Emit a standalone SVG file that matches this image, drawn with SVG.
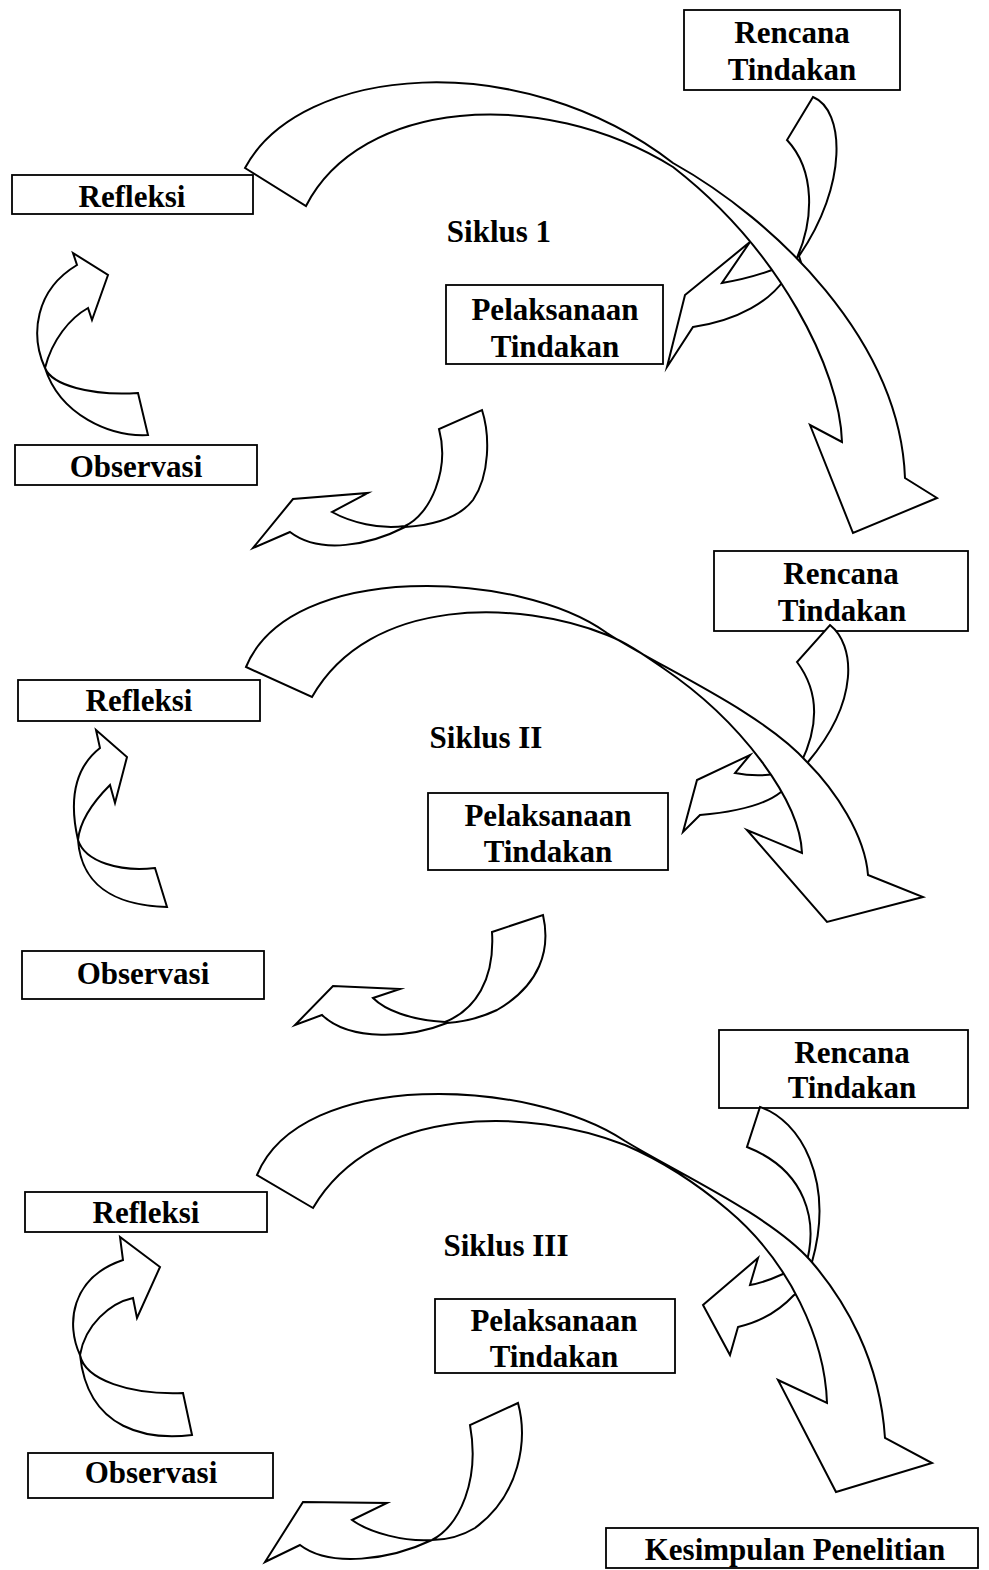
<svg xmlns="http://www.w3.org/2000/svg" width="989" height="1570" viewBox="0 0 989 1570">
<style>
.box{fill:#fff;stroke:#000;stroke-width:1.8}
.arr{fill:#fff;stroke:#000;stroke-width:2;stroke-linejoin:miter;stroke-miterlimit:20}
text{font-family:"Liberation Serif","Times New Roman",serif;font-weight:bold;font-size:31px;text-anchor:middle;fill:#000}
</style>
<rect width="989" height="1570" fill="#fff"/>
<g id="nodes">
  <g id="rencana1"><rect class="box" x="684" y="10" width="216" height="80"/><text x="792" y="43">Rencana</text><text x="792" y="80">Tindakan</text></g>
  <g id="refleksi1"><rect class="box" x="12" y="175" width="241" height="39"/><text x="132" y="207">Refleksi</text></g>
  <g id="observasi1"><rect class="box" x="15" y="445" width="242" height="40"/><text x="136" y="477">Observasi</text></g>
  <g id="pelaksanaan1"><rect class="box" x="446" y="285" width="217" height="79"/><text x="555" y="320">Pelaksanaan</text><text x="555" y="357">Tindakan</text></g>
  <g id="siklus1"><text x="499" y="242">Siklus 1</text></g>

  <g id="rencana2"><rect class="box" x="714" y="551" width="254" height="80"/><text x="841" y="584">Rencana</text><text x="842" y="621">Tindakan</text></g>
  <g id="refleksi2"><rect class="box" x="18" y="680" width="242" height="41"/><text x="139" y="711">Refleksi</text></g>
  <g id="observasi2"><rect class="box" x="22" y="951" width="242" height="48"/><text x="143" y="984">Observasi</text></g>
  <g id="pelaksanaan2"><rect class="box" x="428" y="793" width="240" height="77"/><text x="548" y="826">Pelaksanaan</text><text x="548" y="862">Tindakan</text></g>
  <g id="siklus2"><text x="486" y="748">Siklus II</text></g>

  <g id="rencana3"><rect class="box" x="719" y="1030" width="249" height="78"/><text x="852" y="1063">Rencana</text><text x="852" y="1098">Tindakan</text></g>
  <g id="refleksi3"><rect class="box" x="25" y="1192" width="242" height="40"/><text x="146" y="1223">Refleksi</text></g>
  <g id="observasi3"><rect class="box" x="28" y="1453" width="245" height="45"/><text x="151" y="1483">Observasi</text></g>
  <g id="pelaksanaan3"><rect class="box" x="435" y="1299" width="240" height="74"/><text x="554" y="1331">Pelaksanaan</text><text x="554" y="1367">Tindakan</text></g>
  <g id="siklus3"><text x="506" y="1256">Siklus III</text></g>

  <g id="kesimpulan"><rect class="box" x="606" y="1528" width="372" height="40"/><text x="795" y="1560">Kesimpulan Penelitian</text></g>
</g>
<g id="connectors">
  <!-- cycle 1 -->
  <path class="arr" d="M813,97 C845,110 848,185 799,256 L804,272 L784,280 C770,300 740,320 693,327 L667,367 L685,295 L750,242 L722,283 C740,280 760,275 780,267 L795,262 C815,220 815,170 787,140 Z"/>
  <path class="arr" d="M245,168 C300,65 520,45 673,163 C775,220 900,340 905,478 L937,498 L853,533 L810,425 L842,442 C840,370 780,250 673,167 C540,85 360,100 306,206 Z"/>
  <path class="arr" d="M148,435 C110,437 60,415 45,368 C30,335 35,290 77,265 L73,253 L108,275 L92,320 L88,308 C70,318 52,340 45,368 C52,385 90,396 138,393 Z"/>
  <path class="arr" d="M482,410 C490,435 490,475 473,500 C460,517 435,525 405,527 C370,545 320,555 290,532 L253,548 L293,499 L368,493 L332,512 C350,522 380,530 405,526 C430,515 450,470 439,429 Z"/>
  <!-- cycle 2 -->
  <path class="arr" d="M830,625 C855,645 860,700 808,762 L800,785 L781,792 C765,805 735,812 700,815 L683,832 L697,780 L750,755 L735,773 C750,776 762,776 775,774 L800,765 C820,725 818,690 797,662 Z"/>
  <path class="arr" d="M246,667 C290,560 520,570 607,633 C655,665 760,710 807,762 C835,790 865,835 868,875 L923,897 L827,922 L747,830 L802,853 C800,800 740,720 663,668 C640,652 625,642 607,635 C520,600 370,595 312,697 Z"/>
  <path class="arr" d="M167,907 C130,906 82,895 78,840 C70,805 72,770 100,748 L96,730 L127,757 L115,803 L110,785 C95,800 80,820 78,840 C85,862 120,872 155,868 Z"/>
  <path class="arr" d="M543,915 C551,950 540,985 497,1010 C480,1018 465,1022 447,1023 C410,1038 350,1042 322,1015 L295,1025 L333,986 L400,989 L373,998 C385,1010 410,1020 445,1022 C475,1010 495,980 492,932 Z"/>
  <!-- cycle 3 -->
  <path class="arr" d="M760,1107 C800,1120 835,1180 812,1262 L815,1285 L794,1295 C780,1310 760,1322 738,1327 L730,1355 L703,1305 L758,1258 L750,1285 C762,1283 772,1279 783,1274 L805,1268 C820,1220 805,1170 747,1147 Z"/>
  <path class="arr" d="M257,1175 C301,1068 531,1078 625,1141 C672,1170 770,1215 810,1260 C845,1300 880,1360 885,1438 L932,1463 L836,1492 L778,1380 L827,1403 C825,1340 790,1262 728,1210 C695,1182 660,1160 625,1145 C531,1108 375,1103 313,1208 Z"/>
  <path class="arr" d="M192,1435 C150,1440 88,1432 80,1355 C66,1325 70,1278 123,1260 L120,1237 L160,1267 L137,1318 L133,1298 C110,1303 85,1325 80,1355 C85,1380 130,1395 183,1393 Z"/>
  <path class="arr" d="M518,1403 C528,1440 520,1495 475,1528 C460,1537 445,1540 432,1540 C390,1560 330,1568 300,1545 L265,1562 L303,1502 L387,1503 L352,1520 C370,1533 405,1542 432,1540 C460,1525 480,1480 470,1425 Z"/>
</g>
</svg>
